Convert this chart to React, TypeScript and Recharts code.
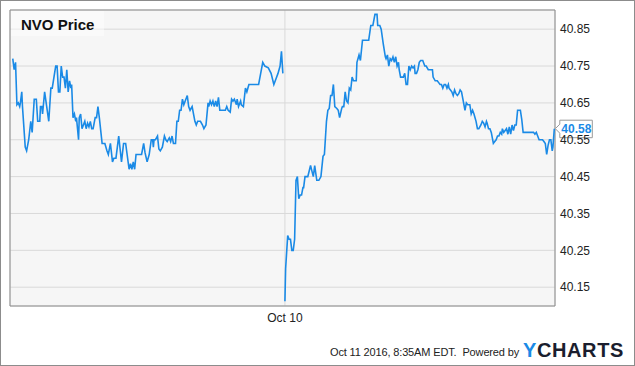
import React from "react";
import { LineChart, Line, XAxis, YAxis, CartesianGrid, ReferenceArea } from "recharts";

// minutes after the 9:30 open, price
const oct7: [number, number][] = [
  [0, 40.77], [2, 40.74], [4, 40.76], [6, 40.645], [8, 40.65], [10, 40.64], [11, 40.65], [13, 40.68],
  [14, 40.64], [18, 40.53], [20, 40.52], [23, 40.55], [26, 40.6], [28, 40.57], [31, 40.66], [34, 40.66],
  [36, 40.6], [39, 40.6], [40, 40.64], [42, 40.64], [43, 40.62], [46, 40.68], [49, 40.64], [52, 40.6],
  [55, 40.69], [57, 40.69], [62, 40.75], [64, 40.75], [66, 40.68], [68, 40.68], [70, 40.75], [72, 40.72],
  [74, 40.72], [76, 40.69], [78, 40.74], [80, 40.68], [82, 40.71], [84, 40.69], [85, 40.7], [87, 40.61],
  [89, 40.62], [91, 40.6], [92, 40.61], [95, 40.55], [96, 40.61], [98, 40.62], [100, 40.58], [102, 40.59],
  [104, 40.6], [106, 40.58], [108, 40.595], [110, 40.585], [112, 40.6], [114, 40.58], [116, 40.58],
  [119, 40.61], [121, 40.61], [123, 40.64], [125, 40.61], [129, 40.54], [133, 40.54], [136, 40.52],
  [138, 40.51], [141, 40.54], [144, 40.49], [146, 40.5], [149, 40.5], [153, 40.56], [155, 40.525],
  [157, 40.49], [160, 40.54], [163, 40.54], [168, 40.47], [170, 40.485], [172, 40.47], [174, 40.49],
  [176, 40.47], [178, 40.51], [183, 40.51], [186, 40.51], [189, 40.54], [191, 40.515], [194, 40.49],
  [197, 40.51], [200, 40.55], [202, 40.55], [203, 40.53], [204, 40.55], [206, 40.55], [209, 40.56],
  [211, 40.525], [213, 40.52], [216, 40.53], [219, 40.56], [221, 40.55], [223, 40.545], [226, 40.555],
  [228, 40.545], [230, 40.56], [232, 40.54], [235, 40.54], [237, 40.6], [239, 40.6], [241, 40.63],
  [243, 40.63], [245, 40.66], [247, 40.645], [249, 40.655], [252, 40.67], [254, 40.64], [256, 40.63],
  [259, 40.64], [263, 40.6], [265, 40.59], [267, 40.6], [271, 40.6], [274, 40.59], [276, 40.58],
  [279, 40.59], [282, 40.65], [283, 40.64], [285, 40.655], [287, 40.645], [289, 40.655], [291, 40.64],
  [293, 40.655], [295, 40.64], [297, 40.665], [299, 40.63], [304, 40.63], [307, 40.63], [309, 40.64],
  [311, 40.63], [314, 40.625], [316, 40.66], [318, 40.655], [320, 40.66], [323, 40.645], [324, 40.66],
  [326, 40.64], [329, 40.655], [330, 40.645], [333, 40.64], [336, 40.69], [338, 40.68], [341, 40.7],
  [347, 40.7], [352, 40.7], [355, 40.7], [358, 40.73], [361, 40.76], [364, 40.75], [369, 40.745],
  [373, 40.73], [377, 40.7], [380, 40.715], [383, 40.73], [386, 40.75], [388, 40.79], [390, 40.73],
];

const oct10: [number, number][] = [
  [0, 40.112], [1, 40.2], [4, 40.29], [6, 40.28], [8, 40.28], [10, 40.25], [12, 40.25], [14, 40.28],
  [16, 40.44], [18, 40.45], [20, 40.39], [22, 40.4], [24, 40.4], [26, 40.42], [27, 40.42], [29, 40.45],
  [33, 40.45], [37, 40.48], [39, 40.465], [41, 40.45], [43, 40.48], [46, 40.44], [49, 40.44], [52, 40.45],
  [55, 40.505], [57, 40.51], [60, 40.6], [62, 40.63], [64, 40.635], [66, 40.67], [68, 40.67], [70, 40.7],
  [72, 40.64], [75, 40.635], [77, 40.63], [79, 40.61], [82, 40.635], [83, 40.64], [85, 40.64], [87, 40.68],
  [89, 40.655], [91, 40.65], [93, 40.69], [95, 40.685], [97, 40.72], [99, 40.71], [103, 40.71], [104, 40.76],
  [107, 40.78], [109, 40.765], [112, 40.82], [116, 40.82], [121, 40.82], [124, 40.86], [127, 40.86],
  [130, 40.89], [133, 40.89], [134, 40.86], [137, 40.86], [139, 40.85], [142, 40.81], [145, 40.775],
  [146, 40.77], [148, 40.78], [150, 40.75], [152, 40.77], [154, 40.765], [156, 40.775], [158, 40.76],
  [160, 40.775], [162, 40.75], [164, 40.76], [165, 40.74], [167, 40.72], [169, 40.72], [171, 40.72],
  [173, 40.73], [175, 40.7], [177, 40.7], [179, 40.75], [181, 40.74], [183, 40.75], [185, 40.745],
  [187, 40.75], [188, 40.73], [190, 40.73], [192, 40.74], [194, 40.76], [196, 40.765], [199, 40.765],
  [202, 40.75], [204, 40.75], [207, 40.74], [210, 40.74], [213, 40.74], [214, 40.72], [217, 40.71],
  [220, 40.71], [222, 40.705], [224, 40.7], [226, 40.7], [228, 40.69], [230, 40.7], [232, 40.7],
  [234, 40.69], [236, 40.7], [237, 40.69], [239, 40.685], [241, 40.68], [243, 40.67], [245, 40.685],
  [247, 40.675], [249, 40.67], [251, 40.675], [253, 40.685], [255, 40.68], [257, 40.66], [260, 40.63],
  [262, 40.65], [264, 40.645], [267, 40.645], [269, 40.62], [271, 40.63], [273, 40.62], [276, 40.6],
  [278, 40.58], [280, 40.58], [283, 40.59], [285, 40.6], [287, 40.595], [289, 40.585], [291, 40.6],
  [292, 40.595], [294, 40.58], [296, 40.58], [298, 40.57], [301, 40.54], [303, 40.545], [305, 40.55],
  [307, 40.56], [309, 40.56], [311, 40.57], [313, 40.565], [314, 40.58], [316, 40.57], [318, 40.575],
  [320, 40.58], [322, 40.565], [324, 40.585], [326, 40.565], [328, 40.59], [330, 40.575], [332, 40.59],
  [334, 40.59], [336, 40.63], [340, 40.63], [342, 40.605], [344, 40.57], [349, 40.57], [354, 40.57],
  [359, 40.57], [361, 40.565], [363, 40.57], [365, 40.56], [367, 40.55], [372, 40.55], [374, 40.545],
  [376, 40.54], [378, 40.51], [380, 40.535], [382, 40.55], [384, 40.55], [386, 40.52], [387, 40.53],
  [389, 40.58],
];

const DAY2_OFFSET = 393; // where Oct 10 session starts on the time axis
const xTicks = [DAY2_OFFSET];
const xTickLabels = ["Oct 10"];
const yTicks = [40.15, 40.25, 40.35, 40.45, 40.55, 40.65, 40.75, 40.85];

// null between the sessions so the line breaks overnight
const data: { t: number; price: number | null }[] = [
  ...oct7.map(([m, p]) => ({ t: m, price: p })),
  { t: DAY2_OFFSET - 1, price: null },
  ...oct10.map(([m, p]) => ({ t: DAY2_OFFSET + m, price: p })),
];

const X_DOMAIN: [number, number] = [-4, 783];
const Y_DOMAIN: [number, number] = [40.099, 40.902];

const BLUE = "#1a8ae6";
const FONT = "'Liberation Sans', Arial, sans-serif";

const lastIdx = data.length - 1;

const renderDot = (props: any) => {
  const { cx, cy, index } = props;
  if (index !== lastIdx || cx == null || cy == null) return <g key={`d-${index}`} />;
  return (
    <g key="price-tag">
      <path
        d={`M${cx + 1},${cy} L${cx + 5.5},${cy - 4.5} L${cx + 5.5},${cy - 8.5} L${cx + 38},${cy - 8.5} L${cx + 38},${cy + 9} L${cx + 5.5},${cy + 9} L${cx + 5.5},${cy + 4.5} Z`}
        fill="#fff"
        stroke="#999"
      />
      <text x={cx + 7} y={cy + 4.5} fill={BLUE} fontSize={12} fontWeight="bold" fontFamily={FONT}>
        {(data[lastIdx].price as number).toFixed(2)}
      </text>
    </g>
  );
};

export default function App() {
  return (
    <div style={{ position: "relative", width: 635, height: 366, fontFamily: FONT }}>
      <style>{`body{margin:0}`}</style>
      <LineChart
        width={635}
        height={366}
        data={data}
        margin={{ top: 10, right: 0, bottom: 30, left: 10 }}
      >
        <CartesianGrid stroke="#d9d9d9" fill="#f6f6f6" vertical horizontal />
        <XAxis
          dataKey="t"
          type="number"
          domain={X_DOMAIN}
          ticks={xTicks}
          tickFormatter={(v) => xTickLabels[xTicks.indexOf(v)] ?? ""}
          height={30}
          axisLine={false}
          tickLine={false}
          tickSize={0}
          tickMargin={7}
          tick={{ fill: "#222", fontSize: 12, fontFamily: FONT }}
        />
        <YAxis
          orientation="right"
          domain={Y_DOMAIN}
          ticks={yTicks}
          tickFormatter={(v) => v.toFixed(2)}
          width={80}
          axisLine={false}
          tickLine={false}
          tickSize={0}
          tickMargin={5}
          tick={{ fill: "#222", fontSize: 12, fontFamily: FONT }}
        />
        <ReferenceArea
          x1={X_DOMAIN[0]}
          x2={X_DOMAIN[1]}
          y1={Y_DOMAIN[0]}
          y2={Y_DOMAIN[1]}
          stroke="#8c8c8c"
          strokeWidth={1}
          fill="none"
          fillOpacity={0}
        />
        <Line
          type="linear"
          dataKey="price"
          stroke={BLUE}
          strokeWidth={1.6}
          connectNulls={false}
          dot={renderDot}
          activeDot={false}
          isAnimationActive={false}
        />
      </LineChart>
      <div
        style={{
          position: "absolute",
          left: 11,
          top: 11,
          width: 93,
          height: 25,
          background: "rgba(255,255,255,0.45)",
        }}
      />
      <div
        style={{
          position: "absolute",
          left: 21,
          top: 16,
          fontSize: 15,
          fontWeight: "bold",
          color: "#111",
          lineHeight: "17px",
        }}
      >
        NVO Price
      </div>
      <div
        style={{
          position: "absolute",
          left: 330,
          top: 346,
          fontSize: 11,
          letterSpacing: -0.15,
          color: "#222",
          lineHeight: "13px",
          whiteSpace: "nowrap",
        }}
      >
        <span>Oct 11 2016, 8:35AM EDT.</span>
        <span style={{ marginLeft: 6 }}>Powered by</span>
      </div>
      <div
        style={{
          position: "absolute",
          left: 523,
          top: 339,
          fontSize: 20,
          fontWeight: "bold",
          letterSpacing: 0.6,
          lineHeight: "22px",
          color: "#1b1e2e",
        }}
      >
        <span style={{ color: BLUE }}>Y</span>CHARTS
      </div>
      <div
        style={{
          position: "absolute",
          left: 0,
          top: 0,
          width: 635,
          height: 366,
          boxSizing: "border-box",
          border: "1px solid #8c8c8c",
          pointerEvents: "none",
        }}
      />
    </div>
  );
}
